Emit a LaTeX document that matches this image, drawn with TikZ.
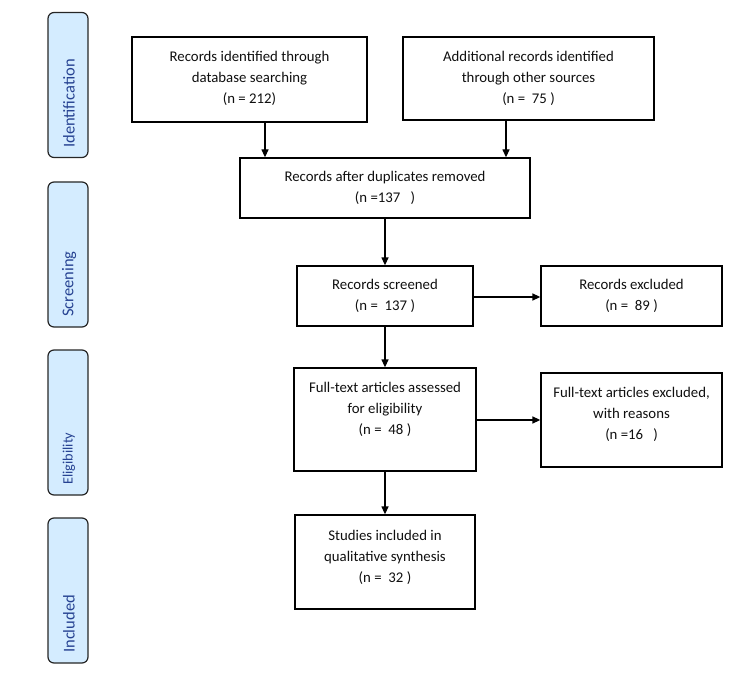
\documentclass[tikz,border=0pt]{standalone}
\usepackage{fontspec}
\setmainfont{Carlito}
\usetikzlibrary{arrows.meta}
\definecolor{phasefill}{RGB}{212,236,255}
\definecolor{phasetext}{RGB}{38,66,146}
\definecolor{boxtext}{RGB}{15,15,15}
\begin{document}
\begin{tikzpicture}[x=1pt,y=-1pt,
  box/.style={draw=black,line width=1.3pt,minimum width=#1,inner sep=0pt},
  txt/.style={align=center,text=boxtext,font=\fontsize{14.8}{21}\selectfont,inner sep=0pt},
  phase/.style={draw=black!85,line width=1.2pt,rounded corners=6pt,fill=phasefill,minimum width=40pt,minimum height=145pt,inner sep=0pt},
  phaselbl/.style={rotate=90,anchor=west,text=phasetext,inner sep=0pt,font=\fontsize{16.5}{18}\selectfont},
  arr/.style={line width=1.3pt,-{Triangle[length=8pt,width=7pt]}}]
\useasboundingbox (0,0) rectangle (750,682);
% phase boxes
\node[phase] (p1) at (68,85) {};
\node[phase] (p2) at (68,254.5) {};
\node[phase] (p3) at (68,422.5) {};
\node[phase] (p4) at (68,590.5) {};
\node[phaselbl] (l1) at (69,148) {Identification};
\node[phaselbl] (l2) at (69,317) {Screening};
\node[phaselbl,font=\fontsize{14.3}{16}\selectfont] (l3) at (69,485) {Eligibility};
\node[phaselbl] (l4) at (69,653) {Included};
% flow boxes
\node[box=235pt,minimum height=85pt] (A) at (249.5,79.5) {};
\node[box=251pt,minimum height=83pt] (B) at (528.5,78.5) {};
\node[box=290pt,minimum height=60pt] (C) at (385,188) {};
\node[box=176pt,minimum height=60pt] (D) at (385,296) {};
\node[box=181pt,minimum height=60pt] (E) at (631.5,296) {};
\node[box=182pt,minimum height=103pt] (F) at (385,419.5) {};
\node[box=181pt,minimum height=94pt] (G) at (631.5,420) {};
\node[box=180pt,minimum height=94pt] (H) at (385,562) {};
% texts
\node[txt] (tA) at (249.5,78.5) {Records identified through\\database searching\\(n = 212)};
\node[txt] (tB) at (528.5,78.5) {Additional records identified\\through other sources\\(n =\ \ 75 )};
\node[txt] (tC) at (385,187.5) {Records after duplicates removed\\(n =137\ \ \ )};
\node[txt] (tD) at (385,296) {Records screened\\(n =\ \ 137 )};
\node[txt] (tE) at (631.5,296) {Records excluded\\(n =\ \ 89 )};
\node[txt] (tF) at (385,409) {Full-text articles assessed\\for eligibility\\(n =\ \ 48 )};
\node[txt] (tG) at (631.5,414) {Full-text articles excluded,\\with reasons\\(n =16\ \ \ )};
\node[txt] (tH) at (385,557) {Studies included in\\qualitative synthesis\\(n =\ \ 32 )};
% connectors
\coordinate (xa) at (265,0);
\coordinate (xb) at (506,0);
\coordinate (yd) at (0,297);
\coordinate (yf) at (0,420);
\draw[arr] (A.south -| xa) -- (C.north -| xa);
\draw[arr] (B.south -| xb) -- (C.north -| xb);
\draw[arr] (C.south) -- (D.north);
\draw[arr] (D.south) -- (F.north);
\draw[arr] (F.south) -- (H.north);
\draw[arr] (D.east |- yd) -- (E.west |- yd);
\draw[arr] (F.east |- yf) -- (G.west |- yf);
\end{tikzpicture}
\end{document}
